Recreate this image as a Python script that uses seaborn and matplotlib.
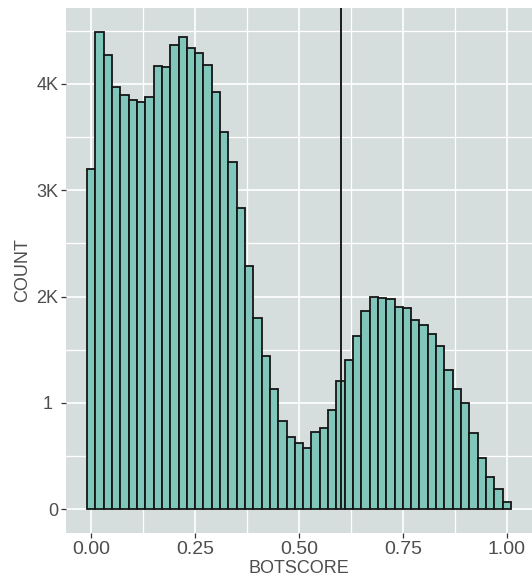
import pandas as pd
import matplotlib.pyplot as plt
import seaborn as sns
from matplotlib.ticker import MultipleLocator

# bin centres 0.00 .. 1.00, width 0.02
bin_centers = [0.00, 0.02, 0.04, 0.06, 0.08, 0.10, 0.12, 0.14, 0.16, 0.18,
               0.20, 0.22, 0.24, 0.26, 0.28, 0.30, 0.32, 0.34, 0.36, 0.38,
               0.40, 0.42, 0.44, 0.46, 0.48, 0.50, 0.52, 0.54, 0.56, 0.58,
               0.60, 0.62, 0.64, 0.66, 0.68, 0.70, 0.72, 0.74, 0.76, 0.78,
               0.80, 0.82, 0.84, 0.86, 0.88, 0.90, 0.92, 0.94, 0.96, 0.98,
               1.00]
counts = [3200, 4485, 4268, 3973, 3900, 3850, 3830, 3880, 4170, 4160,
          4370, 4437, 4334, 4293, 4180, 3920, 3550, 3265, 2830, 2292,
          1802, 1440, 1132, 825, 675, 620, 574, 724, 768, 934,
          1210, 1405, 1630, 1860, 1994, 1985, 1979, 1903, 1888, 1778,
          1731, 1646, 1536, 1308, 1135, 997, 715, 486, 301, 188,
          72]
threshold = 0.6
x_ticks = [0.00, 0.25, 0.50, 0.75, 1.00]
x_labels = ["0.00", "0.25", "0.50", "0.75", "1.00"]
y_ticks = [0, 1000, 2000, 3000, 4000]
y_labels = ["0", "1 ", "2K", "3K", "4K"]

df = pd.DataFrame({"botscore": bin_centers, "count": counts})

sns.set_theme(style="darkgrid", rc={
    "axes.facecolor": "#d6dedd",
    "grid.color": "white",
    "figure.facecolor": "white",
})
plt.rcParams["font.family"] = ["Liberation Sans", "DejaVu Sans"]

fig = plt.figure(figsize=(5.32, 5.79), dpi=100)
ax = fig.add_axes([66 / 532, 46 / 579, 466 / 532, 525 / 579])

sns.histplot(data=df, x="botscore", weights="count", binwidth=0.02,
             binrange=(-0.01, 1.01), ax=ax,
             color="#80c6bb", alpha=1, edgecolor="#151515", linewidth=1.3)

ymax = 4714
# threshold line drawn from zero up to the top of the panel
ax.vlines(threshold, 0, ymax, color="#1a1a1a", linewidth=1.4, zorder=3)

ax.set_xlim(-0.061, 1.061)
ax.set_ylim(-224, ymax)

ax.set_xticks(x_ticks)
ax.set_xticklabels(x_labels)
ax.set_yticks(y_ticks)
ax.set_yticklabels(y_labels)
ax.xaxis.set_minor_locator(MultipleLocator(0.125))
ax.yaxis.set_minor_locator(MultipleLocator(500))
ax.grid(which="major", color="white", linewidth=1.2)
ax.grid(which="minor", color="white", linewidth=0.9)
ax.set_axisbelow(True)

ax.tick_params(axis="both", which="major", bottom=True, left=True,
               length=3.5, width=0.9, color="#333333",
               labelcolor="#4d4d4d", pad=2)
ax.tick_params(axis="x", labelsize=14)
ax.tick_params(axis="y", labelsize=13)
ax.tick_params(which="minor", length=0)
for s in ax.spines.values():
    s.set_visible(False)

ax.set_xlabel("BOTSCORE", fontsize=13, color="#4d4d4d", labelpad=2)
ax.set_ylabel("COUNT", fontsize=13, color="#4d4d4d", labelpad=4)

fig.savefig("out.png", dpi=100)
